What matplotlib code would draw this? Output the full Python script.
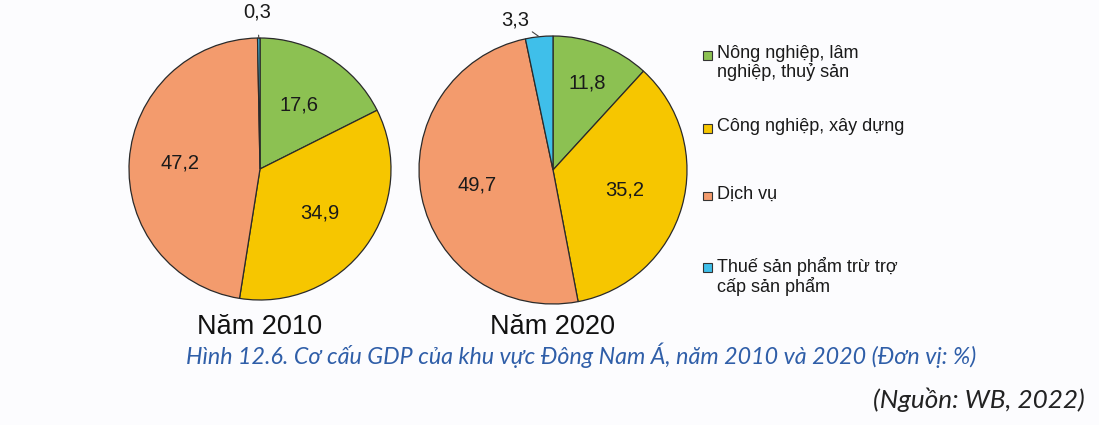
import numpy as np
import matplotlib.pyplot as plt
from matplotlib.patches import Rectangle

# data
categories = ['Nông nghiệp, lâm\nnghiệp, thuỷ sản', 'Công nghiệp, xây dựng',
              'Dịch vụ', 'Thuế sản phẩm trừ trợ\ncấp sản phẩm']
colors = ['#8cc152', '#f6c600', '#f39b6d', '#3fbfea']
years = ['Năm 2010', 'Năm 2020']
values_2010 = [17.6, 34.9, 47.2, 0.3]
values_2020 = [11.8, 35.2, 49.7, 3.3]
label_r_2010 = [0.57, 0.57, 0.61, None]
label_r_2020 = [0.70, 0.56, 0.58, None]

W, H = 1099, 425
fig = plt.figure(figsize=(W / 100, H / 100), dpi=100)
fig.patch.set_facecolor('#fcfcfe')
plt.rcParams['font.family'] = ['Liberation Sans', 'DejaVu Sans']

def fmt(v):
    return ('%.1f' % v).replace('.', ',')

def draw_pie(cx, cy, r, values, label_r, small_xy, year):
    ax = fig.add_axes([(cx - r) / W, (H - cy - r) / H, 2 * r / W, 2 * r / H])
    wedges, _ = ax.pie(values, colors=colors, startangle=90, counterclock=False,
                       radius=1, wedgeprops=dict(edgecolor='#2a2a2a', linewidth=0.9))
    ax.set_xlim(-1.0, 1.0)
    ax.set_ylim(-1.0, 1.0)
    ax.set_aspect('equal')
    ax.axis('off')
    for w, v, lr in zip(wedges, values, label_r):
        ang = np.deg2rad((w.theta1 + w.theta2) / 2)
        if lr is not None:
            ax.text(lr * np.cos(ang), lr * np.sin(ang), fmt(v), ha='center', va='center',
                    fontsize=14.5, color='#1a1a1a')
        else:
            ax.annotate(fmt(v), xy=(np.cos(ang), np.sin(ang)), xytext=small_xy,
                        ha='center', va='center', fontsize=14.5, color='#1a1a1a',
                        annotation_clip=False,
                        arrowprops=dict(arrowstyle='-', color='#444444', lw=0.8,
                                        shrinkA=8, shrinkB=0))
    fig.text(cx / W, 1 - 327 / H, year, ha='center', va='center', fontsize=19.5,
             color='#111111')

draw_pie(260, 169, 131, values_2010, label_r_2010, (-0.02, 1.20), years[0])
draw_pie(553, 170, 134, values_2020, label_r_2020, (-0.28, 1.12), years[1])

# legend
legend_y = [55, 128, 196, 267]
for cat, col, y in zip(categories, colors, legend_y):
    fig.patches.append(Rectangle(((707 - 4.5) / W, 1 - (y + 4.5) / H), 9 / W, 9 / H,
                                 transform=fig.transFigure, facecolor=col,
                                 edgecolor='#333333', linewidth=0.8))
    fig.text(717 / W, 1 - (y - 10) / H, cat, ha='left', va='top', fontsize=13,
             color='#1a1a1a', linespacing=1.1)

# caption and source, sized to fit the widths seen in the reference
cap_font = ['Lato', 'DejaVu Sans']
renderer = fig.canvas.get_renderer()

def fit_text(x, y, s, width_px, ha, color):
    t = fig.text(x / W, 1 - y / H, s, ha=ha, va='center', fontsize=17,
                 style='italic', color=color, family=cap_font)
    w = t.get_window_extent(renderer).width
    t.set_fontsize(17 * width_px / w)
    return t

fit_text(186, 355,
         'Hình 12.6. Cơ cấu GDP của khu vực Đông Nam Á, năm 2010 và 2020 (Đơn vị: %)',
         791, 'left', '#2f5ea8')
fit_text(1085, 400, '(Nguồn: WB, 2022)', 212, 'right', '#222222')

fig.savefig('out.png', dpi=100, facecolor=fig.get_facecolor())
